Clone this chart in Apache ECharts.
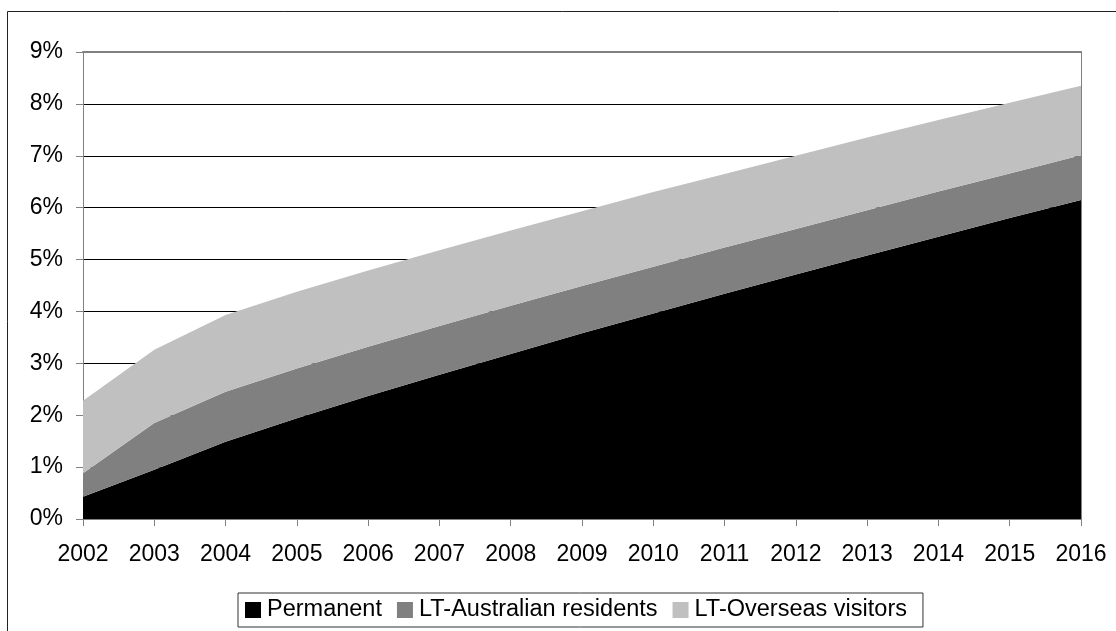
<!DOCTYPE html>
<html>
<head>
<meta charset="utf-8">
<script src="https://cdn.jsdelivr.net/npm/echarts@6/dist/echarts.min.js"></script>
<style>
html,body{margin:0;padding:0;background:#fff;}
#chart{width:1116px;height:631px;}
</style>
</head>
<body>
<div id="chart"></div>
<script>
var years = ['2002','2003','2004','2005','2006','2007','2008','2009','2010','2011','2012','2013','2014','2015','2016'];
var permanent = [0.43,0.95,1.49,1.94,2.37,2.78,3.18,3.58,3.96,4.34,4.71,5.08,5.44,5.80,6.15];
var ltAustralian = [0.45,0.90,0.96,0.96,0.95,0.94,0.93,0.91,0.90,0.89,0.88,0.87,0.87,0.86,0.86];
var ltOverseas = [1.40,1.41,1.48,1.48,1.47,1.46,1.45,1.44,1.44,1.42,1.41,1.40,1.38,1.36,1.34];
var seriesNames = ['Permanent','LT-Australian residents','LT-Overseas visitors'];
var seriesColors = ['#000000','#808080','#c0c0c0'];

var FONT = "'Liberation Sans', Arial, sans-serif";
var chart = echarts.init(document.getElementById('chart'), null, {renderer:'canvas'});

function mkSeries(name, data, color){
  return {
    name: name, type: 'line', stack: 'total', data: data,
    xAxisIndex: 0, yAxisIndex: 0,
    symbol: 'none', showSymbol: false,
    lineStyle: {width: 0, color: color},
    itemStyle: {color: color},
    areaStyle: {color: color, opacity: 1},
    emphasis: {disabled: true}
  };
}

chart.setOption({
  animation: false,
  textStyle: {fontFamily: FONT},
  graphic: [{
    type: 'rect', silent: true, z: 100,
    shape: {x: 7.5, y: 11.5, width: 1300, height: 800},
    style: {fill: 'none', stroke: '#222', lineWidth: 1}
  }],
  grid: {left: 83, top: 52, width: 998, height: 467, containLabel: false},
  legend: {
    left: 238, top: 593,
    padding: [5, 16, 5, 7],
    borderColor: '#333', borderWidth: 1,
    itemWidth: 16, itemHeight: 16, itemGap: 15,
    icon: 'rect',
    data: seriesNames,
    textStyle: {fontFamily: FONT, fontSize: 23.5, color: '#000', lineHeight: 24, padding: [0,0,0,1]},
    selectedMode: false
  },
  xAxis: [{
    type: 'category', data: years, boundaryGap: false, position: 'bottom',
    axisLine: {show: true, lineStyle: {color: '#808080', width: 1}},
    axisTick: {show: true, length: 7, inside: false, lineStyle: {color: '#808080'}, alignWithLabel: true},
    axisLabel: {fontFamily: FONT, fontSize: 23, color: '#000', margin: 24, interval: 0},
    splitLine: {show: false}
  },{
    type: 'category', data: years, boundaryGap: false, position: 'top',
    axisLine: {show: true, onZero: false, lineStyle: {color: '#808080', width: 2}},
    axisTick: {show: false}, axisLabel: {show: false}, splitLine: {show: false}
  }],
  yAxis: [{
    type: 'value', min: 0, max: 9, interval: 1, position: 'left',
    axisLine: {show: true, lineStyle: {color: '#808080', width: 1}},
    axisTick: {show: true, length: 7, lineStyle: {color: '#808080'}},
    axisLabel: {fontFamily: FONT, fontSize: 23, color: '#000', margin: 20, formatter: '{value}%'},
    splitLine: {show: true, showMinLine: false, showMaxLine: false, lineStyle: {color: '#000', width: 1}}
  },{
    type: 'value', min: 0, max: 9, interval: 1, position: 'right',
    axisLine: {show: true, onZero: false, lineStyle: {color: '#808080', width: 1}},
    axisTick: {show: false}, axisLabel: {show: false}, splitLine: {show: false}
  }],
  series: [
    mkSeries(seriesNames[0], permanent, seriesColors[0]),
    mkSeries(seriesNames[1], ltAustralian, seriesColors[1]),
    mkSeries(seriesNames[2], ltOverseas, seriesColors[2])
  ]
});
</script>
</body>
</html>
